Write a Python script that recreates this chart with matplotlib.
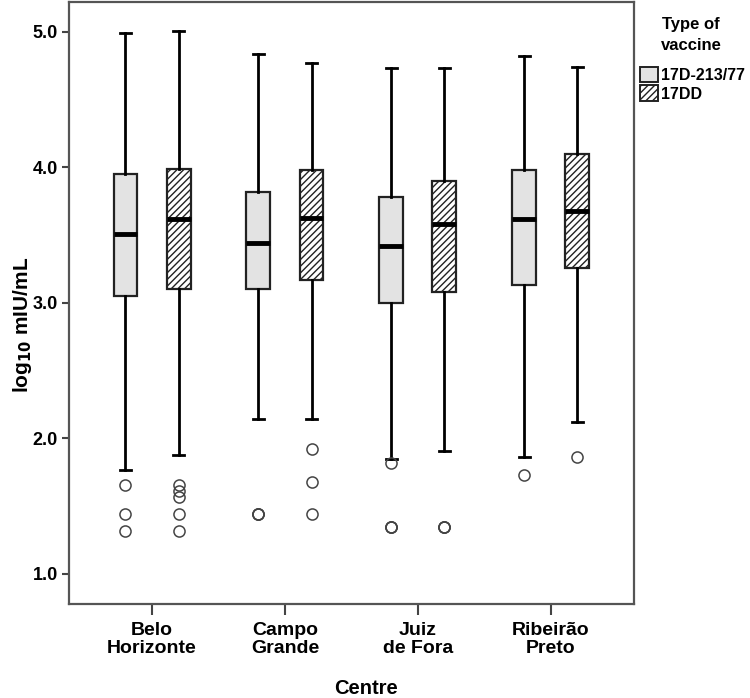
import numpy as np
import matplotlib; matplotlib.use("Agg")
import matplotlib.pyplot as plt
from matplotlib.patches import Patch

plt.rcParams["font.family"] = ["Liberation Sans", "DejaVu Sans"]
plt.rcParams["font.weight"] = "bold"
plt.rcParams["mathtext.default"] = "bf"
plt.rcParams["hatch.linewidth"] = 1.0

centres = ["Belo\nHorizonte", "Campo\nGrande", "Juiz\nde Fora", "Ribeirão\nPreto"]
vaccines = ["17D-213/77", "17DD"]

# box stats per centre (log10 mIU/mL), one list per vaccine
wlo_a = [1.77, 2.14, 1.85, 1.86]
q1_a  = [3.05, 3.10, 3.00, 3.13]
med_a = [3.51, 3.44, 3.42, 3.62]
q3_a  = [3.95, 3.82, 3.78, 3.98]
whi_a = [4.99, 4.84, 4.73, 4.82]
fl_a  = [[1.66, 1.44, 1.32], [1.445, 1.445, 1.445], [1.82, 1.35, 1.35, 1.35], [1.73]]

wlo_b = [1.88, 2.14, 1.91, 2.12]
q1_b  = [3.10, 3.17, 3.08, 3.26]
med_b = [3.62, 3.63, 3.58, 3.68]
q3_b  = [3.99, 3.98, 3.90, 4.10]
whi_b = [5.01, 4.77, 4.73, 4.74]
fl_b  = [[1.66, 1.61, 1.57, 1.44, 1.32], [1.92, 1.68, 1.445], [1.35, 1.35, 1.35], [1.86]]

def stats(wlo, q1, med, q3, whi, fl):
    return [dict(whislo=a, q1=b, med=c, q3=d, whishi=e, fliers=f)
            for a, b, c, d, e, f in zip(wlo, q1, med, q3, whi, fl)]

fig = plt.figure(figsize=(7.5, 6.98), dpi=100)
ax = fig.add_axes([0.092, 0.135, 0.753, 0.862])

x = np.arange(len(centres))
common = dict(widths=0.18, patch_artist=True, showfliers=True,
              whiskerprops=dict(color="black", lw=2),
              capprops=dict(color="black", lw=2),
              medianprops=dict(color="black", lw=3.5),
              flierprops=dict(marker="o", markersize=8, markerfacecolor="none",
                              markeredgecolor="#444", markeredgewidth=1.1))
ba = ax.bxp(stats(wlo_a, q1_a, med_a, q3_a, whi_a, fl_a), positions=x - 0.2,
            boxprops=dict(facecolor="#e3e3e3", edgecolor="#222", lw=1.6), **common)
bb = ax.bxp(stats(wlo_b, q1_b, med_b, q3_b, whi_b, fl_b), positions=x + 0.2,
            boxprops=dict(facecolor="white", edgecolor="#222", lw=1.6, hatch="/////"), **common)
for c in ba["caps"] + bb["caps"]:
    m = c.get_xdata().mean()
    c.set_xdata([m - 0.042, m + 0.042])

ax.set_xlim(-0.625, 3.625)
ax.set_ylim(0.78, 5.22)
ax.set_xticks(x)
ax.set_xticklabels(centres, fontsize=14, fontweight="bold", linespacing=1.08)
ax.set_yticks([1, 2, 3, 4, 5])
ax.set_yticklabels(["1.0", "2.0", "3.0", "4.0", "5.0"], fontsize=13, fontweight="bold")
ax.tick_params(axis="x", direction="out", length=8, width=1.5, color="#444", pad=5)
ax.tick_params(axis="y", direction="out", length=5, width=1.5, color="#444", pad=3)
for sp in ax.spines.values():
    sp.set_color("#555"); sp.set_linewidth(1.6)

fig.text(366 / 750, 1 - 688 / 698, "Centre", ha="center", va="center", fontsize=14.5, fontweight="bold")
fig.text(22 / 750, 1 - 325 / 698, "log$_{10}$ mIU/mL", rotation=90,
         ha="center", va="center", fontsize=15, fontweight="bold")

fig.text(691 / 750, 1 - 25 / 698, "Type of", ha="center", va="center", fontsize=12, fontweight="bold")
fig.text(691 / 750, 1 - 46 / 698, "vaccine", ha="center", va="center", fontsize=12, fontweight="bold")
handles = [Patch(facecolor="#e3e3e3", edgecolor="#222", lw=1.4),
           Patch(facecolor="white", edgecolor="#222", lw=1.4, hatch="/////")]
fig.legend(handles, vaccines, loc="upper left", bbox_to_anchor=(640 / 750, 1 - 67 / 698),
           frameon=False, borderpad=0, borderaxespad=0,
           prop=dict(size=11.5, weight="bold"), handlelength=1.1, handleheight=1.1,
           handletextpad=0.2, labelspacing=0.15)

fig.savefig("out.png", dpi=100)
